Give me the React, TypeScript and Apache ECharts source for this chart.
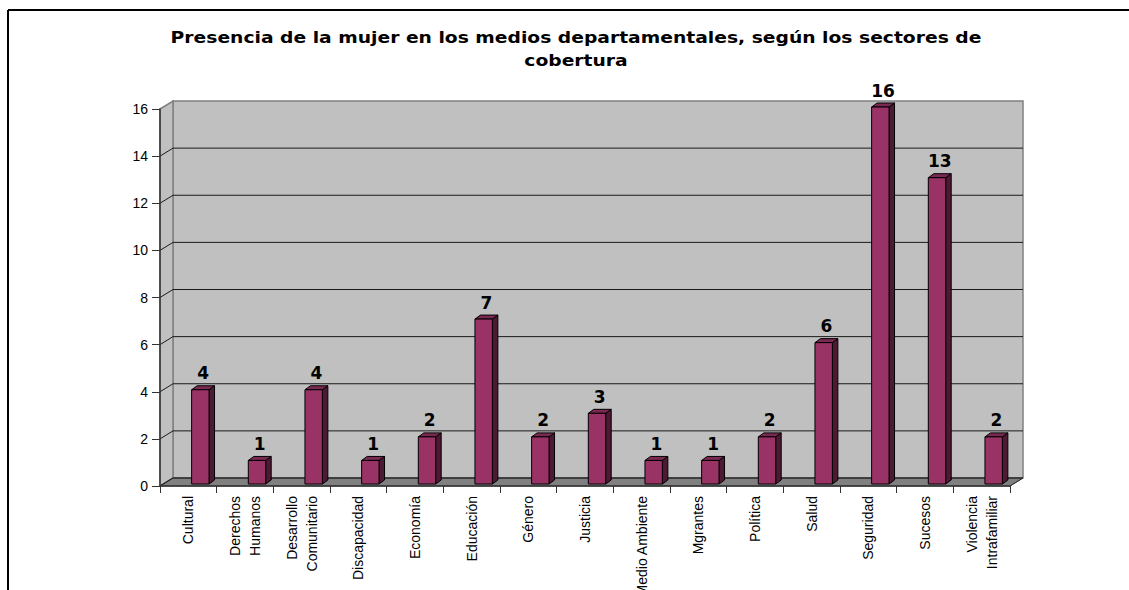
import React, { useEffect, useRef } from "react";
import * as echarts from "echarts";

const titleText =
  "Presencia de la mujer en los medios departamentales, según los sectores de\ncobertura";

const categories = [
  "Cultural",
  "Derechos\nHumanos",
  "Desarrollo\nComunitario",
  "Discapacidad",
  "Economía",
  "Educación",
  "Género",
  "Justicia",
  "Medio Ambiente",
  "Mgrantes",
  "Política",
  "Salud",
  "Seguridad",
  "Sucesos",
  "Violencia\nIntrafamiliar",
];

const values = [4, 1, 4, 1, 2, 7, 2, 3, 1, 1, 2, 6, 16, 13, 2];

const yMin = 0;
const yMax = 16;
const yInterval = 2;
const gridTicks = [0, 2, 4, 6, 8, 10, 12, 14];

const FONT = "'Liberation Sans', Arial, sans-serif";
const BOLD_FONT = "'DejaVu Sans', Verdana, sans-serif";

export default function App() {
  const ref = useRef<HTMLDivElement>(null);

  useEffect(() => {
    if (!ref.current) return;
    const chart = echarts.init(ref.current, undefined, { renderer: "svg" });

    const DX = 13;
    const DY = -8;
    const n = categories.length;

    const renderBackground = (params: any, api: any) => {
      const slot = api.size([1, 0])[0];
      const x0 = api.coord([0, 0])[0] - slot / 2;
      const x1 = api.coord([n - 1, 0])[0] + slot / 2;
      const y0 = api.coord([0, yMin])[1];
      const yT = api.coord([0, yMax])[1];
      const children: any[] = [];
      children.push({
        type: "polygon",
        shape: {
          points: [
            [x0 + DX, yT + DY],
            [x1 + DX, yT + DY],
            [x1 + DX, y0 + DY],
            [x0 + DX, y0 + DY],
          ],
        },
        style: { fill: "#c0c0c0", stroke: "#808080", lineWidth: 1.5 },
      });
      children.push({
        type: "polygon",
        shape: {
          points: [
            [x0, yT],
            [x0 + DX, yT + DY],
            [x0 + DX, y0 + DY],
            [x0, y0],
          ],
        },
        style: { fill: "#c0c0c0", stroke: "#808080", lineWidth: 1.5 },
      });
      children.push({
        type: "polygon",
        shape: {
          points: [
            [x0, y0],
            [x1, y0],
            [x1 + DX, y0 + DY],
            [x0 + DX, y0 + DY],
          ],
        },
        style: { fill: "#808080", stroke: "#404040", lineWidth: 1 },
      });
      gridTicks.forEach((t) => {
        const y = api.coord([0, t])[1];
        children.push({
          type: "polyline",
          shape: {
            points: [
              [x0, y],
              [x0 + DX, y + DY],
              [x1 + DX, y + DY],
            ],
          },
          style: { fill: null, stroke: "#1a1a1a", lineWidth: 1 },
        });
      });
      children.push({
        type: "line",
        shape: { x1: x1, y1: y0, x2: x1 + DX, y2: y0 + DY },
        style: { stroke: "#333", lineWidth: 1 },
      });
      return { type: "group", children };
    };

    const renderBar = (params: any, api: any) => {
      const idx = api.value(0);
      const v = api.value(1);
      const [cx, yt] = api.coord([idx, v]);
      const yb = api.coord([idx, 0])[1];
      const left = cx + 3.3;
      const right = cx + 20.7;
      const top = yt - 2;
      const bottom = yb - 2;
      const dx = 5.5;
      const dy = -4;
      return {
        type: "group",
        children: [
          {
            type: "polygon",
            shape: {
              points: [
                [right, top],
                [right + dx, top + dy],
                [right + dx, bottom + dy],
                [right, bottom],
              ],
            },
            style: { fill: "#4d1a33", stroke: "#000", lineWidth: 1 },
          },
          {
            type: "polygon",
            shape: {
              points: [
                [left, top],
                [left + dx, top + dy],
                [right + dx, top + dy],
                [right, top],
              ],
            },
            style: { fill: "#7a2952", stroke: "#000", lineWidth: 1 },
          },
          {
            type: "rect",
            shape: { x: left, y: top, width: right - left, height: bottom - top },
            style: { fill: "#993366", stroke: "#000", lineWidth: 1 },
          },
          {
            type: "text",
            x: (left + right + dx) / 2,
            y: top + dy - 4,
            style: {
              text: String(v),
              fill: "#000",
              font: `bold 17px ${BOLD_FONT}`,
              align: "center",
              verticalAlign: "bottom",
            },
          },
        ],
      };
    };

    chart.setOption({
      animation: false,
      backgroundColor: "#fff",
      graphic: [
        {
          type: "line",
          shape: { x1: 8, y1: 10, x2: 1129, y2: 10 },
          style: { stroke: "#000", lineWidth: 2 },
        },
        {
          type: "line",
          shape: { x1: 8, y1: 10, x2: 8, y2: 590 },
          style: { stroke: "#000", lineWidth: 2 },
        },
        {
          type: "text",
          x: 576,
          y: 26,
          scaleX: 1.17,
          style: {
            text: titleText,
            font: `bold 16px ${BOLD_FONT}`,
            fill: "#000",
            align: "center",
            verticalAlign: "top",
            lineHeight: 23,
          },
        },
      ],
      grid: { left: 160, right: 119, top: 109, bottom: 104, outerBoundsMode: "none" },
      xAxis: {
        type: "category",
        data: categories,
        z: 10,
        boundaryGap: true,
        axisLine: { show: true, lineStyle: { color: "#333", width: 1.5 } },
        axisTick: { show: true, length: 7, interval: 0, lineStyle: { color: "#333" } },
        axisLabel: {
          interval: 0,
          rotate: 90,
          margin: 10,
          fontSize: 14,
          fontFamily: FONT,
          color: "#000",
          lineHeight: 20,
        },
      },
      yAxis: {
        type: "value",
        min: yMin,
        max: yMax,
        interval: yInterval,
        z: 10,
        axisLine: { show: true, lineStyle: { color: "#333", width: 1.5 } },
        axisTick: { show: true, length: 8, lineStyle: { color: "#333" } },
        axisLabel: { fontSize: 14, fontFamily: FONT, color: "#000", margin: 12 },
        splitLine: { show: false },
      },
      series: [
        {
          type: "custom",
          z: 1,
          silent: true,
          clip: false,
          renderItem: renderBackground,
          data: [[0, 0]],
        },
        {
          type: "custom",
          z: 2,
          clip: false,
          renderItem: renderBar,
          data: values.map((v, i) => [i, v]),
        },
      ],
    });

    return () => chart.dispose();
  }, []);

  return (
    <div
      ref={ref}
      style={{ position: "fixed", left: 0, top: 0, width: 1129, height: 590, background: "#fff" }}
    />
  );
}
